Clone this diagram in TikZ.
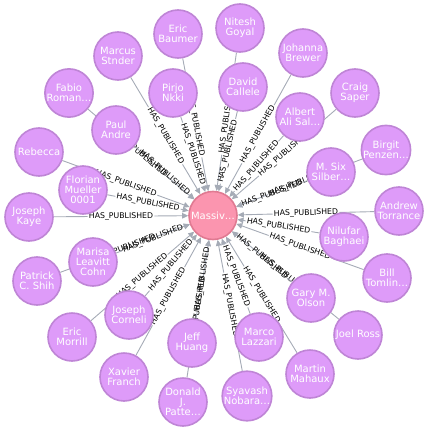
\documentclass[tikz,border=0pt]{standalone}
\usepackage{fontspec}
\setmainfont{DejaVu Sans}
\usetikzlibrary{arrows.meta,backgrounds}
\definecolor{pfill}{HTML}{DE9BF9}
\definecolor{pline}{HTML}{BF85D6}
\definecolor{cfill}{HTML}{FB95AF}
\definecolor{cline}{HTML}{E07A92}
\definecolor{ecol}{HTML}{A5ABB6}
\tikzset{
  person/.style={circle, minimum size=48pt, inner sep=0pt, fill=pfill, draw=pline, line width=1.6pt,
    text=white, align=center, font=\fontsize{10}{10}\selectfont},
  hub/.style={circle, minimum size=48pt, inner sep=0pt, fill=cfill, draw=cline, line width=1.6pt,
    text=white, align=center, font=\fontsize{10}{10}\selectfont},
  edge/.style={draw=ecol, line width=0.9pt},
  arr/.style={-{Triangle[length=6pt,width=5.5pt]}},
  lbl/.style={sloped, inner sep=1.2pt, outer sep=0pt, text=black, font=\fontsize{7.8}{7.8}\selectfont}
}
\begin{document}
\begin{tikzpicture}[x=1pt,y=-1pt]
\useasboundingbox (0,0) rectangle (428,431);
\node[hub] (m) at (213,215.5) {Massiv…};
% outer ring
\node[person] (eb) at (178,34) {Eric\\Baumer};
\node[person] (ng) at (240,28) {Nitesh\\Goyal};
\node[person] (jb) at (303,53) {Johanna\\Brewer};
\node[person] (cs) at (355,93) {Craig\\Saper};
\node[person] (bp) at (386,150) {Birgit\\Penzen…};
\node[person] (at) at (399,211) {Andrew\\Torrance};
\node[person] (bt) at (387,278) {Bill\\Tomlin…};
\node[person] (jr) at (358,335) {Joel Ross};
\node[person] (mm) at (310,374) {Martin\\Mahaux};
\node[person] (sn) at (247,396) {Syavash\\Nobara…};
\node[person] (dp) at (183,402) {Donald\\J.\\Patte…};
\node[person] (xf) at (124,377) {Xavier\\Franch};
\node[person] (em) at (72,337) {Eric\\Morrill};
\node[person] (ps) at (37,281) {Patrick\\C. Shih};
\node[person] (jk) at (29,217) {Joseph\\Kaye};
\node[person] (rb) at (39,152) {Rebecca};
\node[person] (fr) at (69,93) {Fabio\\Roman…};
\node[person] (ms) at (118,56) {Marcus\\Stnder};
% inner ring
\node[person] (pn) at (173,93) {Pirjo\\Nkki};
\node[person] (dc) at (243,87) {David\\Callele};
\node[person] (aa) at (300,117) {Albert\\Ali Sal…};
\node[person] (sx) at (331,172) {M. Six\\Silber…};
\node[person] (nb) at (344,237) {Nilufar\\Baghaei};
\node[person] (go) at (311,298) {Gary M.\\Olson};
\node[person] (ml) at (259,337) {Marco\\Lazzari};
\node[person] (jh) at (192,343) {Jeff\\Huang};
\node[person] (jc) at (129,315) {Joseph\\Corneli};
\node[person] (mc) at (93,262) {Marisa\\Leavitt\\Cohn};
\node[person] (fm) at (83,190) {Florian\\Mueller\\0001};
\node[person] (pa) at (116,130) {Paul\\Andre};
\begin{pgfonlayer}{background}
\foreach \n in {eb,ng,jb,cs,bp,at,bt,jr,mm,sn,dp,xf,em,ps,jk,rb,fr,ms,pn,dc,aa,sx,nb,go,ml,jh,jc,mc,fm,pa}{
  \path (\n) -- node[lbl] (l\n) {HAS\_PUBLISHED} (m);
  \draw[edge] (\n) -- (l\n);
  \draw[edge,arr] (l\n) -- (m);
}
\end{pgfonlayer}
\end{tikzpicture}
\end{document}
